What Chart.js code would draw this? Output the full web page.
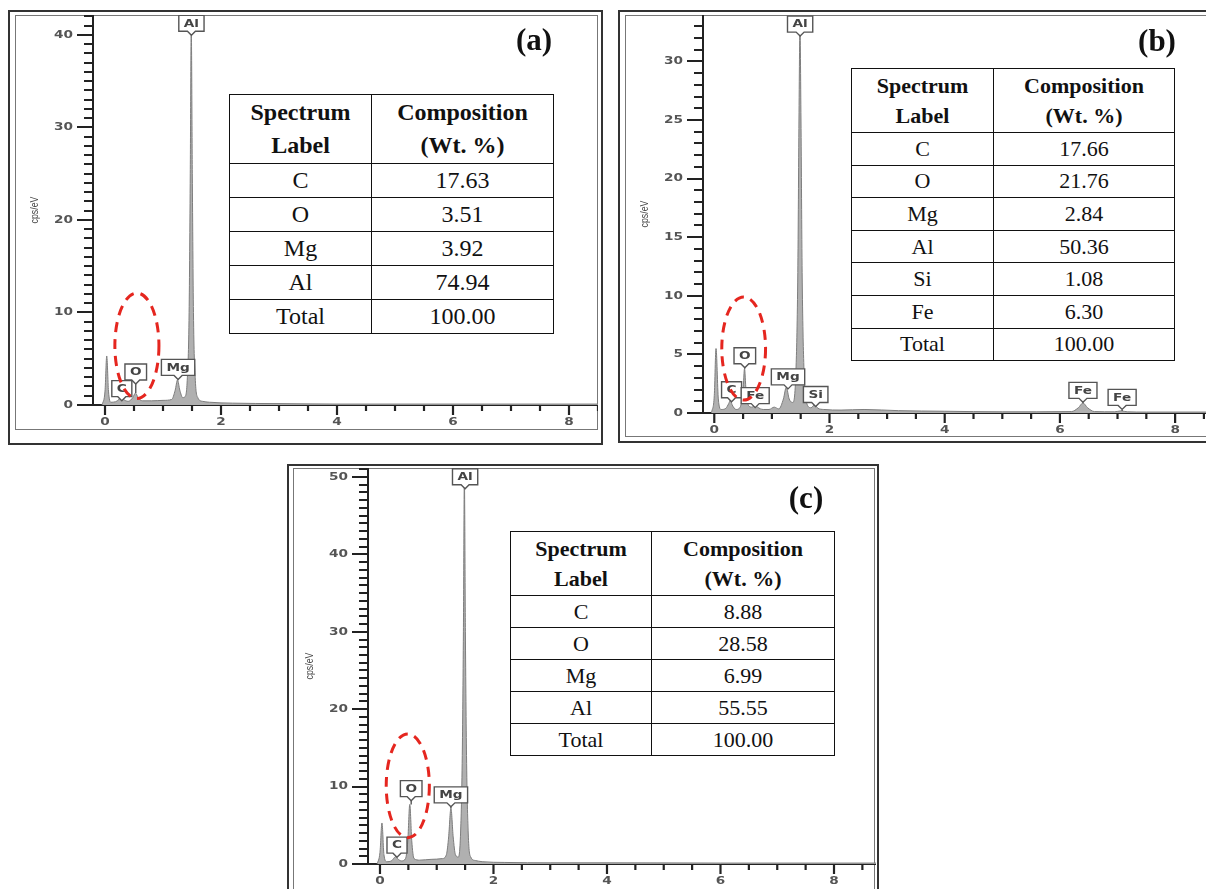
<!DOCTYPE html>
<html><head><meta charset="utf-8">
<script src="https://cdn.jsdelivr.net/npm/chart.js@4.4.1/dist/chart.umd.min.js"></script>
<style>
html,body{margin:0;padding:0;background:#fff;}
body{width:1206px;height:889px;position:relative;overflow:hidden;}
.bx{position:absolute;box-sizing:border-box;}
.outer{border:2px solid #333;}
.inner{border:1.5px solid #777;}
canvas{position:absolute;}
table{position:absolute;border-collapse:collapse;table-layout:fixed;font-family:'Liberation Serif','Times New Roman',serif;color:#111;background:#fff;}
td,th{border:1.6px solid #111;text-align:center;padding:0;white-space:nowrap;}
th{font-weight:bold;}
.letter{position:absolute;font-family:'Liberation Serif','Times New Roman',serif;font-weight:bold;font-size:31px;transform:translate(-50%,-50%);color:#111;}
</style></head>
<body>
<div class="bx outer" style="left:8px;top:10px;width:595px;height:435px"></div>
<div class="bx inner" style="left:15px;top:15px;width:583px;height:415px"></div>
<div class="bx outer" style="left:618px;top:10px;width:600px;height:433px"></div>
<div class="bx inner" style="left:625px;top:15px;width:600px;height:422px"></div>
<div class="bx outer" style="left:287px;top:464px;width:592px;height:440px"></div>
<div class="bx inner" style="left:293px;top:468px;width:582px;height:440px"></div>

<canvas id="cA" width="583" height="415" style="left:15px;top:15px"></canvas>
<canvas id="cB" width="581" height="422" style="left:625px;top:15px"></canvas>
<canvas id="cC" width="583" height="421" style="left:293px;top:468px"></canvas>

<table id="tA" style="left:229px;top:94px;width:324px;font-size:24px"></table>
<table id="tB" style="left:851px;top:68px;width:323px;font-size:22px"></table>
<table id="tC" style="left:510px;top:531px;width:324px;font-size:22px"></table>

<div class="letter" style="left:534px;top:40px">(a)</div>
<div class="letter" style="left:1157px;top:41px">(b)</div>
<div class="letter" style="left:806px;top:498px">(c)</div>

<script>
// ---------- data ----------
const energyA = [-0.05, 0.0, 0.03, 0.06, 0.1, 0.18, 0.24, 0.28, 0.32, 0.4, 0.48, 0.525, 0.57, 0.65, 0.8, 1.0, 1.15, 1.21, 1.25, 1.29, 1.34, 1.38, 1.42, 1.45, 1.47, 1.487, 1.505, 1.525, 1.555, 1.6, 1.68, 1.8, 2.2, 3.0, 4.0, 6.0, 8.5];
const cpsA    = [0, 1.5, 5.3, 1.5, 0.3, 0.35, 0.6, 0.9, 0.6, 0.4, 0.8, 1.3, 0.8, 0.45, 0.45, 0.5, 0.6, 1.6, 2.7, 1.6, 0.8, 0.9, 3, 10, 25, 41, 25, 10, 3, 0.8, 0.4, 0.3, 0.2, 0.15, 0.1, 0.1, 0.1];

const energyB = [-0.05, 0.0, 0.03, 0.07, 0.12, 0.2, 0.25, 0.28, 0.31, 0.38, 0.45, 0.5, 0.525, 0.55, 0.6, 0.66, 0.705, 0.75, 0.85, 0.95, 1.04, 1.12, 1.2, 1.25, 1.3, 1.36, 1.42, 1.45, 1.47, 1.487, 1.505, 1.525, 1.555, 1.6, 1.68, 1.74, 1.8, 1.9, 2.2, 2.6, 3.2, 4.0, 5.0, 6.2, 6.32, 6.40, 6.48, 6.6, 6.95, 7.06, 7.17, 7.5, 8.6];
const cpsB    = [0, 1.5, 5.5, 1.2, 0.3, 0.4, 0.8, 1.1, 0.7, 0.3, 0.5, 2.0, 3.8, 2.0, 0.6, 0.5, 0.7, 0.5, 0.3, 0.3, 0.5, 0.35, 1.2, 2.2, 1.2, 0.9, 4, 12, 25, 33, 25, 12, 4, 0.9, 0.45, 0.7, 0.4, 0.3, 0.25, 0.3, 0.2, 0.15, 0.1, 0.12, 0.45, 0.85, 0.45, 0.12, 0.1, 0.18, 0.1, 0.08, 0.08];

const energyC = [-0.05, 0.0, 0.035, 0.07, 0.12, 0.2, 0.25, 0.28, 0.31, 0.38, 0.45, 0.49, 0.525, 0.56, 0.6, 0.7, 0.9, 1.1, 1.17, 1.21, 1.25, 1.29, 1.33, 1.38, 1.42, 1.45, 1.47, 1.487, 1.505, 1.525, 1.555, 1.6, 1.68, 1.8, 2.2, 3.0, 4.0, 6.0, 8.8];
const cpsC    = [0, 1.5, 5.3, 1.2, 0.3, 0.4, 0.8, 1.0, 0.7, 0.4, 0.7, 3.0, 7.7, 3.0, 0.7, 0.5, 0.6, 0.7, 1.2, 3.5, 7.2, 3.5, 1.2, 0.9, 4, 14, 30, 50, 30, 14, 4, 0.9, 0.45, 0.3, 0.2, 0.15, 0.15, 0.12, 0.12];

const xTickLabels = [0, 2, 4, 6, 8];
const yTicksA = [0, 10, 20, 30, 40];
const yTicksB = [0, 5, 10, 15, 20, 25, 30];
const yTicksC = [0, 10, 20, 30, 40, 50];
const yTitle = 'cps/eV';

const peakNamesA  = ['C', 'O', 'Mg', 'Al'];
const peakEnergyA = [0.29, 0.53, 1.26, 1.49];
const peakBoxA    = [0.9, 2.7, 3.2, 40.4];
const peakNamesB  = ['C', 'O', 'Fe', 'Mg', 'Al', 'Si', 'Fe', 'Fe'];
const peakEnergyB = [0.30, 0.53, 0.71, 1.28, 1.49, 1.76, 6.40, 7.08];
const peakBoxB    = [1.3, 4.2, 0.8, 2.4, 32.5, 0.9, 1.25, 0.65];
const peakNamesC  = ['C', 'O', 'Mg', 'Al'];
const peakEnergyC = [0.30, 0.55, 1.25, 1.50];
const peakBoxC    = [1.4, 8.7, 7.9, 49];

const tableHead = ['Spectrum<br>Label', 'Composition<br>(Wt. %)'];
const elementsA = ['C', 'O', 'Mg', 'Al', 'Total'];
const wtA       = ['17.63', '3.51', '3.92', '74.94', '100.00'];
const elementsB = ['C', 'O', 'Mg', 'Al', 'Si', 'Fe', 'Total'];
const wtB       = ['17.66', '21.76', '2.84', '50.36', '1.08', '6.30', '100.00'];
const elementsC = ['C', 'O', 'Mg', 'Al', 'Total'];
const wtC       = ['8.88', '28.58', '6.99', '55.55', '100.00'];

// ---------- tables ----------
function buildTable(id, els, wts, c1, c2, headH, rowH, lh) {
  const t = document.getElementById(id);
  let h = `<colgroup><col style="width:${c1}px"><col style="width:${c2}px"></colgroup>`;
  h += `<tr style="height:${headH}px"><th style="line-height:${lh}px">${tableHead[0]}</th><th style="line-height:${lh}px">${tableHead[1]}</th></tr>`;
  els.forEach((e, i) => { h += `<tr style="height:${rowH}px"><td>${e}</td><td>${wts[i]}</td></tr>`; });
  t.innerHTML = h;
}
buildTable('tA', elementsA, wtA, 142, 182, 69, 34, 33);
buildTable('tB', elementsB, wtB, 142, 181, 64, 32.6, 30);
buildTable('tC', elementsC, wtC, 141, 183, 64, 32, 30);

// ---------- charts ----------
function drawWide(ctx, text, x, y, sx, align) {
  ctx.save(); ctx.translate(x, y); ctx.scale(sx, 1);
  ctx.textAlign = align; ctx.fillText(text, 0, 0); ctx.restore();
}
function seg(ctx, x1, y1, x2, y2) { ctx.beginPath(); ctx.moveTo(x1, y1); ctx.lineTo(x2, y2); ctx.stroke(); }

function panelPlugin(cfg) {
  return {
    id: 'panel' + cfg.id,
    afterDraw(chart) {
      const { ctx, chartArea: ca, scales: { x, y } } = chart;
      ctx.save();
      // tick marks
      ctx.strokeStyle = '#222'; ctx.lineWidth = 2.2;
      for (let i = 0; i <= Math.floor(x.max * 2 + 1e-6); i++) {
        const v = i / 2, px = x.getPixelForValue(v);
        seg(ctx, px, ca.bottom, px, ca.bottom + (i % 4 === 0 ? 10 : 6));
      }
      ctx.lineWidth = 2;
      for (let v = 0; v <= y.max; v++) {
        const py = Math.round(y.getPixelForValue(v));
        seg(ctx, ca.left - (cfg.yTicks.includes(v) ? 16 : 9), py, ca.left, py);
      }
      // tick labels
      ctx.fillStyle = '#555'; ctx.font = 'bold 10.5px "DejaVu Sans"'; ctx.textBaseline = 'middle';
      cfg.yTicks.forEach(v => drawWide(ctx, String(v), ca.left - 20, y.getPixelForValue(v), 1.3, 'right'));
      xTickLabels.forEach(v => drawWide(ctx, String(v), x.getPixelForValue(v), ca.bottom + 17, 1.3, 'center'));
      // y title
      ctx.save(); ctx.translate(ca.left - 58, (ca.top + ca.bottom) / 2); ctx.rotate(-Math.PI / 2);
      ctx.scale(0.8, 1);
      ctx.font = '11px "Liberation Sans"'; ctx.fillStyle = '#444'; ctx.textAlign = 'center'; ctx.textBaseline = 'middle';
      ctx.fillText(yTitle, 0, 0); ctx.restore();
      // peak labels
      ctx.font = 'bold 10.5px "DejaVu Sans"';
      cfg.names.forEach((n, i) => {
        const e = cfg.energies[i];
        const cx = x.getPixelForValue(e), by = y.getPixelForValue(cfg.boxes[i]);
        const w = ctx.measureText(n).width * 1.3 + 10, h = 16, l = cx - w / 2, t = by - h;
        let peak = 0;
        cfg.energy.forEach((en, k) => { if (Math.abs(en - e) < 0.04) peak = Math.max(peak, cfg.cps[k]); });
        const py = y.getPixelForValue(peak);
        ctx.strokeStyle = '#555'; ctx.lineWidth = 1.4;
        if (py > by + 4) seg(ctx, cx, by + 4, cx, Math.min(py, ca.bottom));
        ctx.beginPath();
        ctx.moveTo(l, t); ctx.lineTo(l + w, t); ctx.lineTo(l + w, by); ctx.lineTo(cx + 4, by);
        ctx.lineTo(cx, by + 4); ctx.lineTo(cx - 4, by); ctx.lineTo(l, by); ctx.closePath();
        ctx.fillStyle = '#fff'; ctx.fill(); ctx.stroke();
        ctx.fillStyle = '#444'; ctx.textBaseline = 'middle';
        drawWide(ctx, n, cx, t + h / 2 + 0.5, 1.3, 'center');
      });
      // dashed ellipse
      const ex = x.getPixelForValue(cfg.ell[0]), ey = y.getPixelForValue(cfg.ell[1]);
      const rx = Math.abs(x.getPixelForValue(cfg.ell[0] + cfg.ell[2]) - ex);
      const ry = Math.abs(y.getPixelForValue(cfg.ell[1] + cfg.ell[3]) - ey);
      ctx.strokeStyle = '#e5261f'; ctx.lineWidth = 3; ctx.setLineDash([10, 7]);
      ctx.beginPath(); ctx.ellipse(ex, ey, rx, ry, 0, 0, Math.PI * 2); ctx.stroke();
      ctx.restore();
    }
  };
}

function makeChart(cfg) {
  const pts = cfg.energy.map((e, i) => ({ x: e, y: cfg.cps[i] }));
  return new Chart(document.getElementById(cfg.canvas), {
    type: 'line',
    data: { datasets: [{ data: pts, borderColor: '#7d7d7d', borderWidth: 1, backgroundColor: '#b0b0b0',
      fill: 'origin', pointRadius: 0, cubicInterpolationMode: 'monotone' }] },
    options: {
      responsive: false, animation: false, devicePixelRatio: 1,
      layout: { padding: 0, autoPadding: false },
      plugins: { legend: { display: false }, tooltip: { enabled: false } },
      scales: {
        x: { type: 'linear', min: cfg.xMin, max: cfg.xMax, z: 1,
          ticks: { display: false }, grid: { display: false, drawTicks: false },
          border: { display: true, color: '#222', width: 2 },
          afterFit: s => { s.height = cfg.xH; } },
        y: { type: 'linear', min: 0, max: cfg.yMax, z: 1,
          ticks: { display: false, includeBounds: false }, grid: { display: false, drawTicks: false },
          border: { display: true, color: '#222', width: 2 },
          afterFit: s => { s.width = cfg.yW; } }
      }
    },
    plugins: [panelPlugin(cfg)]
  });
}

makeChart({ id: 'A', canvas: 'cA', energy: energyA, cps: cpsA, xMin: -0.207, xMax: 8.5, yMax: 42.16, xH: 25, yW: 78,
  yTicks: yTicksA, names: peakNamesA, energies: peakEnergyA, boxes: peakBoxA, ell: [0.55, 6.4, 0.38, 5.7] });
makeChart({ id: 'B', canvas: 'cB', energy: energyB, cps: cpsB, xMin: -0.196, xMax: 8.536, yMax: 33.96, xH: 24, yW: 78,
  yTicks: yTicksB, names: peakNamesB, energies: peakEnergyB, boxes: peakBoxB, ell: [0.51, 5.5, 0.38, 4.4] });
makeChart({ id: 'C', canvas: 'cC', energy: energyC, cps: cpsC, xMin: -0.211, xMax: 8.74, yMax: 51.16, xH: 25, yW: 75,
  yTicks: yTicksC, names: peakNamesC, energies: peakEnergyC, boxes: peakBoxC, ell: [0.49, 10.1, 0.38, 6.7] });
</script>
</body></html>
